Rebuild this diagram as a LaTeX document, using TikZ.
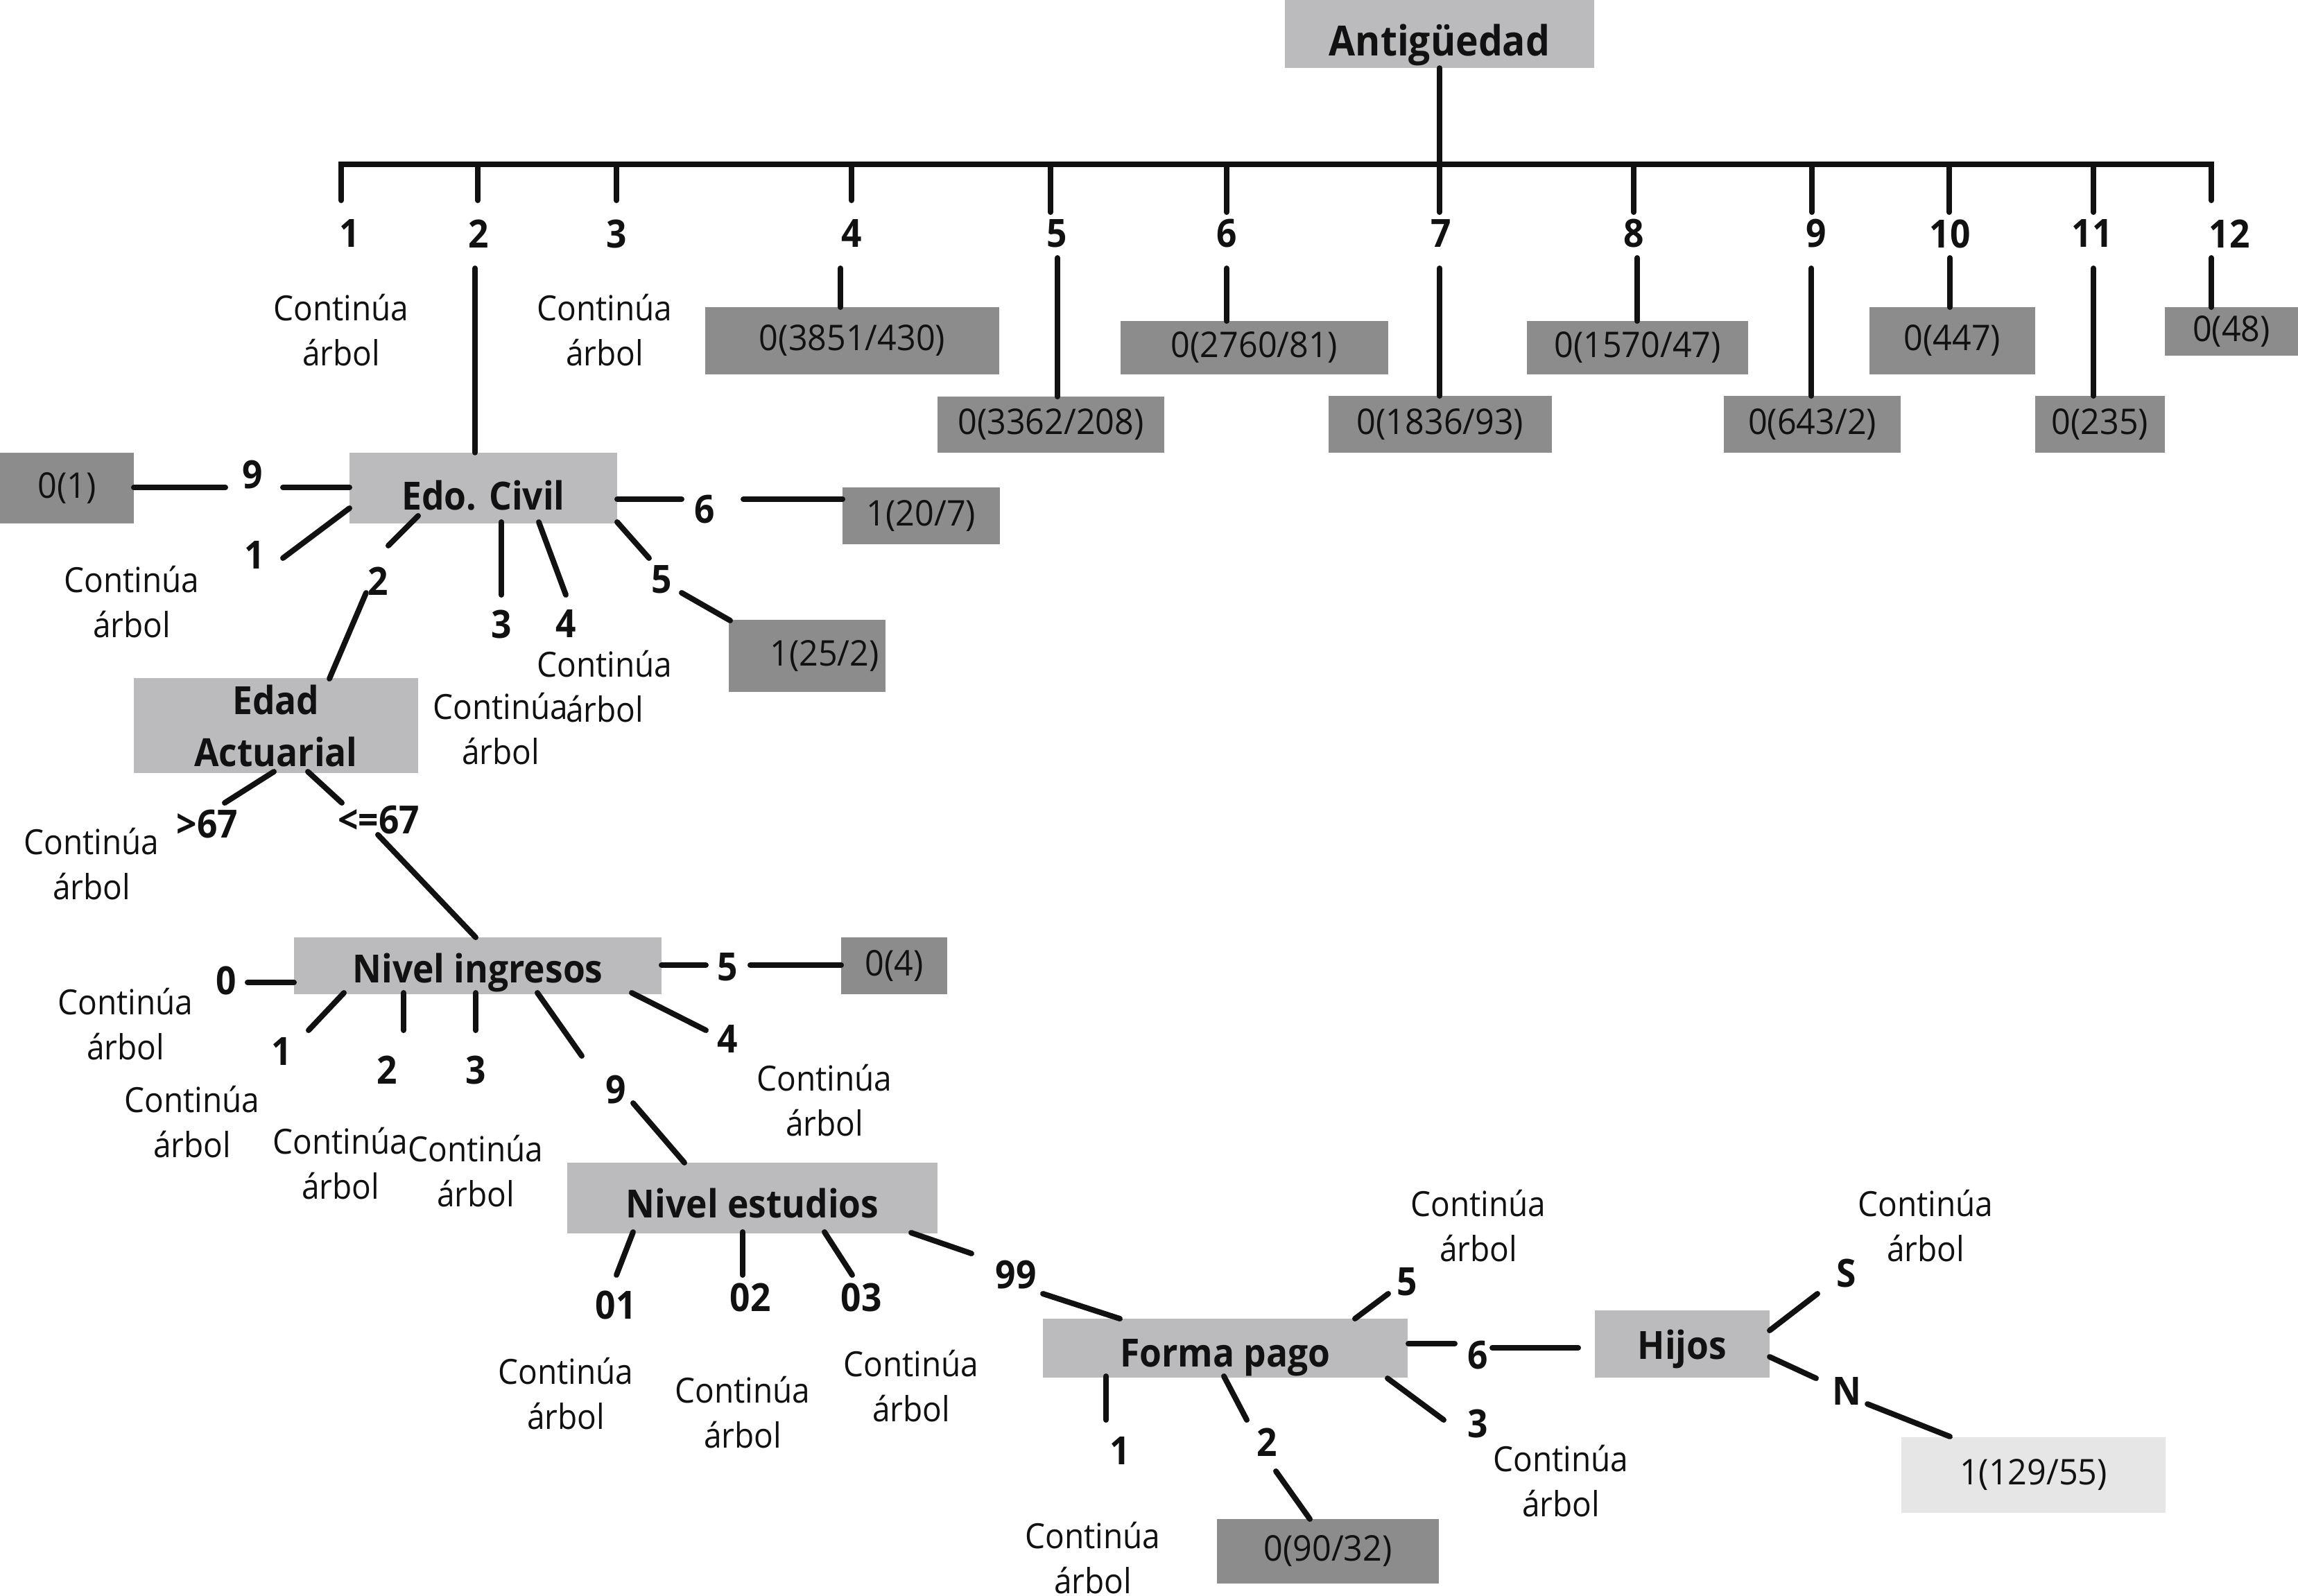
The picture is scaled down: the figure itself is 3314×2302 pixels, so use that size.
\documentclass[tikz,border=0pt]{standalone}
\usepackage{fontspec}
\setmainfont{Open Sans}
\newfontfamily\nfont{Open Sans}[FakeStretch=0.92]
\newfontfamily\vfont{Open Sans}[FakeStretch=0.95]
\definecolor{tgray}{HTML}{BBBBBD}
\definecolor{dgray}{HTML}{8C8C8C}
\definecolor{pgray}{HTML}{E6E6E6}
\definecolor{ink}{HTML}{111111}
\begin{document}
\begin{tikzpicture}[x=1pt,y=-1pt,
 ln/.style={line width=8pt, line cap=round, draw=ink},
 tbox/.style={fill=tgray, inner sep=0pt, text=ink, font=\nfont\bfseries\fontsize{56}{75}\selectfont},
 vbox/.style={fill=dgray, inner sep=0pt, text=ink, font=\vfont\fontsize{51}{55}\selectfont},
 lab/.style={inner sep=0pt, text=ink, font=\nfont\bfseries\fontsize{56}{60}\selectfont},
 cont/.style={inner sep=0pt, anchor=south, align=center, text=ink, font=\nfont\fontsize{50}{65}\selectfont}]
\fill[white] (0,0) rectangle (3314,2302);
\useasboundingbox (0,0) rectangle (3314,2302);

% ---------- boxes ----------
\node[tbox, minimum width=446pt, minimum height=98pt, text height=62pt, text depth=0pt, font=\nfont\bfseries\fontsize{60}{70}\selectfont] (ant) at (2076,49) {Antigüedad};
\node[tbox, minimum width=386pt, minimum height=102pt, text height=62pt, text depth=0pt] (edo) at (697,704) {Edo. Civil};
\node[tbox, minimum width=410pt, minimum height=137pt, align=center] (edad) at (398,1046.5) {Edad\\Actuarial};
\node[tbox, minimum width=530pt, minimum height=82pt, text height=48pt, text depth=0pt] (ing) at (689,1393) {Nivel ingresos};
\node[tbox, minimum width=534pt, minimum height=102pt, text height=56pt, text depth=0pt] (est) at (1085,1728) {Nivel estudios};
\node[tbox, minimum width=526pt, minimum height=85pt, text height=53pt, text depth=0pt] (fp) at (1767,1944.5) {Forma pago};
\node[tbox, minimum width=252pt, minimum height=97pt, text height=43pt, text depth=0pt] (hij) at (2426,1938.5) {Hijos};

\node[vbox, minimum width=424pt, minimum height=97pt] (v4) at (1229,491.5) {0(3851/430)};
\node[vbox, minimum width=327pt, minimum height=81pt] (v5) at (1515.5,612.5) {0(3362/208)};
\node[vbox, minimum width=386pt, minimum height=77pt] (v6) at (1809,501.5) {0(2760/81)};
\node[vbox, minimum width=322pt, minimum height=82pt] (v7) at (2077,612) {0(1836/93)};
\node[vbox, minimum width=319pt, minimum height=77pt] (v8) at (2361.5,501.5) {0(1570/47)};
\node[vbox, minimum width=255pt, minimum height=82pt] (v9) at (2613.5,612) {0(643/2)};
\node[vbox, minimum width=239pt, minimum height=97pt] (v10) at (2815.5,491.5) {0(447)};
\node[vbox, minimum width=187pt, minimum height=82pt] (v11) at (3028.5,612) {0(235)};
\node[vbox, minimum width=192pt, minimum height=70pt] (v12) at (3218,478) {0(48)};
\node[vbox, minimum width=193pt, minimum height=102pt] (v01) at (96.5,704) {0(1)};
\node[vbox, minimum width=227pt, minimum height=82pt] (v207) at (1328.5,744) {1(20/7)};
\node[vbox, minimum width=226pt, minimum height=104pt] (v252) at (1164,946) {\hspace*{50pt}1(25/2)};
\node[vbox, minimum width=153pt, minimum height=82pt] (v04) at (1289.5,1393) {0(4)};
\node[vbox, minimum width=320pt, minimum height=93pt] (v9032) at (1915,2237.5) {0(90/32)};
\node[vbox, fill=pgray, minimum width=381pt, minimum height=109pt] (v129) at (2932.5,2127.5) {1(129/55)};

% ---------- labels ----------
\foreach \t/\x in {1/504,2/690,3/889,4/1228,5/1524,6/1769,7/2078,8/2356,9/2619,10/2812,11/3017,12/3215}
  \node[lab] (t\t) at (\x,337) {\t};
\node[lab] (e9) at (364,685) {9};
\node[lab] (e1) at (367,801) {1};
\node[lab] (e2) at (545,838) {2};
\node[lab] (e3) at (723,900) {3};
\node[lab] (e4) at (816,900) {4};
\node[lab] (e5) at (954,836) {5};
\node[lab] (e6) at (1016,735) {6};
\node[lab] (ag) at (299,1189) {>67};
\node[lab] (al) at (546,1183) {<=67};
\node[lab] (i0) at (326,1414) {0};
\node[lab] (i1) at (406,1516) {1};
\node[lab] (i2) at (558,1543) {2};
\node[lab] (i3) at (686,1543) {3};
\node[lab] (i9) at (888,1572) {9};
\node[lab] (i4) at (1049,1498) {4};
\node[lab] (i5) at (1049,1395) {5};
\node[lab] (s01) at (888,1882) {01};
\node[lab] (s02) at (1082,1871) {02};
\node[lab] (s03) at (1242,1871) {03};
\node[lab] (s99) at (1465,1839) {99};
\node[lab] (f1) at (1615,2092) {1};
\node[lab] (f2) at (1827,2080) {2};
\node[lab] (f5) at (2029,1849) {5};
\node[lab] (f6) at (2131,1955) {6};
\node[lab] (f3) at (2131,2053) {3};
\node[lab] (hs) at (2663,1836) {S};
\node[lab] (hn) at (2663,2006) {N};

% ---------- Continúa árbol ----------
\foreach \n/\x/\y in {c1/492/528, c3/872/528, ce1/190/920, ce4/872/1042, ce3/722/1103,
  cag/132/1298, ci0/181/1529, ci1/277/1670, ci2/491/1730, ci3/686/1741, ci4/1189/1639,
  cs01/816/2062, cs02/1071/2089, cs03/1314/2051, cf1/1576/2299, cf5/2132/1820, cf3/2251/2188, chs/2777/1820}
  \node[cont] (\n) at (\x,\y) {Continúa\\árbol};

% ---------- connectors ----------
\draw[ln] (ant.south) -- (2076,237);
\draw[ln, line cap=butt] (492,289) -- (492,237) -- (3189,237) -- (3189,289);
\foreach \x/\y in {492/289,689/289,889/289,1228/289,1515/306,1769/306,2076/306,2356/306,2613/306,2811/306,3019/306,3189/289}
  \draw[ln] (\x,237) -- (\x,\y);
\draw[ln] (685,387) -- (edo.north -| 685,0);
\draw[ln] (1212,387) -- (1212,443);
\draw[ln] (1525,372) -- (1525,572);
\draw[ln] (1769,387) -- (1769,463);
\draw[ln] (2076,387) -- (2076,571);
\draw[ln] (2361,372) -- (2361,463);
\draw[ln] (2612,387) -- (2612,571);
\draw[ln] (2812,372) -- (2812,443);
\draw[ln] (3019,387) -- (3019,571);
\draw[ln] (3189,372) -- (3189,443);

% Edo. Civil
\draw[ln] (193,703) -- (325,703);
\draw[ln] (408,703) -- (504,703);
\draw[ln] (504,733) -- (408,805);
\draw[ln] (603,744) -- (560,787);
\draw[ln] (528,855) -- (475,979);
\draw[ln] (723,753) -- (723,858);
\draw[ln] (777,753) -- (816,858);
\draw[ln] (890,753) -- (936,805);
\draw[ln] (983,855) -- (1053,895);
\draw[ln] (890,720) -- (983,720);
\draw[ln] (1072,720) -- (1215,720);

% Edad Actuarial
\draw[ln] (395,1113) -- (324,1158);
\draw[ln] (444,1113) -- (493,1158);
\draw[ln] (545,1204) -- (686,1352);

% Nivel ingresos
\draw[ln] (357,1417) -- (424,1417);
\draw[ln] (496,1432) -- (445,1486);
\draw[ln] (582,1432) -- (582,1486);
\draw[ln] (686,1432) -- (686,1486);
\draw[ln] (775,1432) -- (839,1523);
\draw[ln] (913,1591) -- (987,1677);
\draw[ln] (911,1432) -- (1018,1486);
\draw[ln] (954,1392) -- (1018,1392);
\draw[ln] (1082,1392) -- (1213,1392);

% Nivel estudios
\draw[ln] (913,1777) -- (889,1839);
\draw[ln] (1071,1777) -- (1071,1839);
\draw[ln] (1189,1777) -- (1229,1839);
\draw[ln] (1314,1778) -- (1401,1808);
\draw[ln] (1504,1866) -- (1615,1902);

% Forma pago
\draw[ln] (1595,1985) -- (1595,2048);
\draw[ln] (1765,1985) -- (1798,2048);
\draw[ln] (1840,2122) -- (1889,2191);
\draw[ln] (1954,1902) -- (2002,1866);
\draw[ln] (2031,1938) -- (2098,1938);
\draw[ln] (2152,1944) -- (2276,1944);
\draw[ln] (2001,1988) -- (2082,2048);

% Hijos
\draw[ln] (2552,1919) -- (2621,1866);
\draw[ln] (2552,1957) -- (2619,1988);
\draw[ln] (2693,2025) -- (2812,2072);
\end{tikzpicture}
\end{document}
